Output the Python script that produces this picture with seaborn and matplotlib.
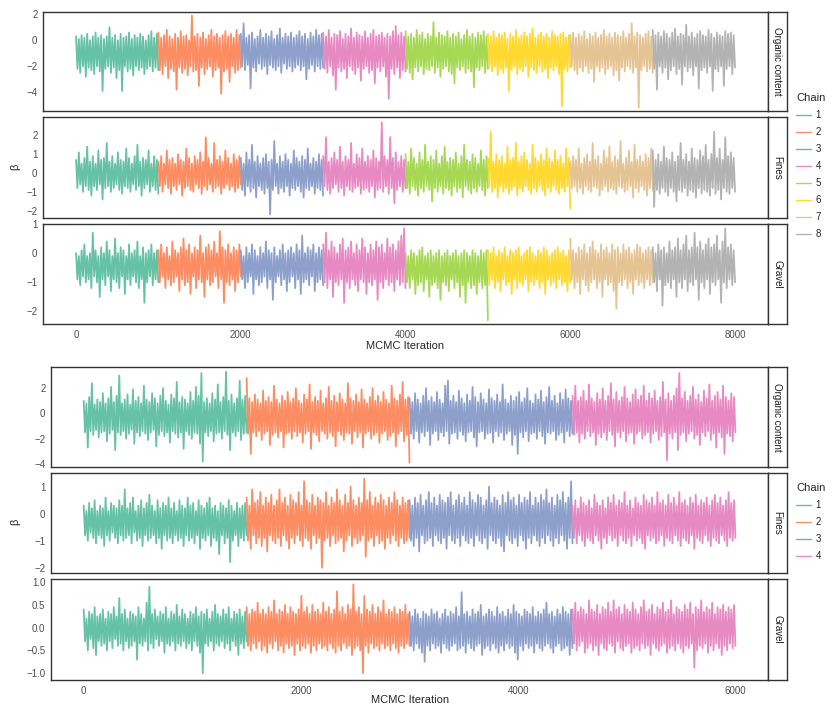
import matplotlib
matplotlib.use("Agg")
import matplotlib.pyplot as plt
import numpy as np
import pandas as pd
import seaborn as sns
from matplotlib.lines import Line2D

# ---- data: values, one list per chain ----
facets = ["Organic content", "Fines", "Gravel"]

# run A: 8 chains x 1000 iterations
top_organic = [
    [0.3, -2.2, 0.1, -2.5, 0.4, -2.0, 0.2, -2.8, 0.5, -2.1, 0.0, -2.3, 0.3, -2.6, 0.6, -2.0, 0.2, -2.4, 0.4, -3.9,
     0.1, -2.2, 0.3, -2.0, 1.0, -2.5, 0.2, -2.1, 0.4, -2.9, 0.0, -2.3, 0.5, -3.9, 0.2, -2.0, 0.3, -2.4, 0.6, -2.2,
     0.1, -2.7, 0.4, -2.0, 0.2, -2.3, 0.5, -2.1, 0.3, -2.6, 0.0, -2.2, 0.4, -2.0, 0.7, -2.4, 0.2, -2.1, 0.5, -2.3],
    [0.6, -2.3, 0.2, -2.6, 0.4, -2.0, 0.8, -2.9, 0.3, -2.2, 0.1, -2.4, 0.5, -3.8, 0.2, -2.1, 0.7, -2.5, 0.3, -2.2,
     0.4, -2.7, 0.0, -2.0, 1.9, -2.4, 0.3, -2.3, 0.5, -3.5, 0.2, -2.1, 0.6, -2.6, 0.1, -2.2, 0.4, -2.0, 0.8, -2.8,
     0.3, -2.3, 0.5, -2.1, 0.2, -4.1, 0.4, -2.4, 0.7, -2.2, 0.3, -3.2, 0.5, -2.0, 0.2, -2.5, 0.8, -2.3, 0.4, -2.1],
    [0.5, -2.0, 1.3, -2.3, 0.2, -1.9, 0.4, -3.7, 0.6, -2.1, 0.1, -2.4, 0.3, -1.8, 0.8, -2.2, 0.2, -2.0, 0.5, -2.6,
     0.3, -1.9, 0.7, -2.1, 0.1, -2.3, 0.4, -2.0, 0.9, -2.5, 0.2, -1.8, 0.5, -2.2, 0.3, -2.0, 0.6, -2.4, 0.2, -2.1,
     0.4, -1.9, 0.7, -2.3, 0.3, -2.0, 0.5, -3.0, 0.1, -2.2, 0.6, -1.9, 0.3, -2.4, 0.8, -2.0, 0.4, -2.2, 0.5, -2.1],
    [0.6, -2.2, 0.3, -2.5, 0.8, -2.0, 0.2, -2.7, 0.5, -3.8, 0.4, -2.1, 0.7, -2.4, 0.1, -2.2, 0.5, -2.9, 0.3, -2.0,
     0.9, -2.3, 0.2, -2.6, 0.6, -2.1, 0.4, -3.1, 0.3, -2.2, 0.7, -2.0, 0.2, -2.5, 0.5, -2.3, 0.8, -3.3, 0.3, -2.1,
     0.4, -2.4, 0.6, -2.0, 0.2, -2.8, 0.5, -4.5, 0.3, -2.2, 0.7, -2.6, 1.1, -2.1, 0.4, -2.9, 0.6, -2.3, 0.3, -2.4],
    [0.7, -2.2, 0.3, -2.5, 0.5, -3.0, 0.2, -2.1, 0.8, -2.4, 0.4, -2.0, 0.6, -2.6, 0.1, -2.2, 0.5, -2.3, 0.3, -2.0,
     1.4, -2.5, 0.2, -2.1, 0.6, -2.8, 0.4, -2.2, 0.3, -2.0, 0.7, -2.4, 0.2, -2.6, 0.5, -3.3, 0.3, -2.1, 0.6, -2.3,
     0.1, -2.0, 0.4, -2.5, 0.8, -2.2, 0.3, -2.4, 0.5, -3.6, 0.2, -2.1, 0.6, -2.3, 0.4, -2.0, 0.7, -2.5, 0.3, -2.2],
    [0.5, -2.1, 0.3, -2.4, 0.7, -2.0, 0.2, -2.7, 0.5, -2.2, 0.4, -2.5, 0.6, -2.1, 0.1, -3.9, 0.5, -2.3, 0.3, -2.0,
     0.8, -2.6, 0.2, -2.2, 0.4, -2.4, 0.6, -2.0, 0.3, -2.8, 0.5, -2.1, 0.9, -2.3, 0.2, -2.5, 0.4, -2.0, 0.6, -2.4,
     0.3, -2.2, 0.5, -2.9, 0.2, -2.1, 0.7, -2.3, 0.4, -2.0, 0.3, -2.6, 0.5, -5.1, 0.6, -2.2, 0.2, -2.4, 0.4, -2.1],
    [0.4, -2.0, 0.6, -2.3, 0.2, -2.6, 0.5, -2.1, 0.3, -2.4, 0.7, -2.0, 0.1, -2.5, 0.5, -2.2, 0.3, -3.2, 0.6, -2.0,
     0.2, -2.4, 0.4, -2.1, 0.8, -2.6, 0.3, -2.2, 0.5, -2.0, 0.2, -2.7, 0.6, -2.3, 0.4, -3.1, 0.3, -2.1, 0.7, -2.4,
     0.2, -2.0, 0.5, -2.2, 1.3, -2.5, 0.3, -2.1, 0.6, -5.2, 0.4, -2.3, 0.2, -2.0, 0.5, -2.4, 0.7, -2.2, 0.3, -2.5],
    [0.8, -2.2, 0.4, -3.8, 0.6, -2.0, 0.3, -2.5, 0.7, -2.1, 0.5, -3.0, 0.2, -2.3, 0.6, -2.0, 0.9, -2.6, 0.3, -2.2,
     0.5, -3.4, 0.4, -2.0, 1.2, -2.4, 0.3, -2.1, 0.6, -2.7, 0.2, -2.0, 0.5, -3.7, 0.7, -2.3, 0.4, -2.1, 0.3, -2.5,
     0.8, -2.0, 0.5, -3.9, 0.2, -2.2, 0.6, -2.4, 0.4, -2.0, 0.3, -3.5, 0.7, -2.2, 0.5, -2.0, 0.6, -2.6, 0.4, -2.1],
]
top_fines = [
    [0.7, -0.8, 1.1, -0.6, 0.5, -1.0, 0.8, -0.7, 1.4, -0.9, 0.6, -1.2, 0.9, -0.7, 0.5, -0.9, 1.2, -0.6, 0.7, -1.4,
     0.8, -0.8, 1.6, -0.7, 0.6, -1.0, 0.9, -0.8, 0.5, -0.6, 1.1, -0.9, 0.7, -1.1, 0.6, -0.7, 1.3, -0.8, 0.8, -1.0,
     0.5, -0.6, 0.9, -0.9, 1.5, -0.7, 0.6, -1.2, 0.8, -0.8, 0.7, -0.6, 1.2, -1.0, 0.5, -0.7, 0.9, -0.9, 0.7, -1.1],
    [0.6, -0.7, 0.9, -1.0, 0.5, -0.6, 1.2, -0.8, 0.7, -1.1, 0.8, -0.7, 0.5, -0.9, 1.0, -0.6, 0.7, -1.2, 0.6, -0.8,
     1.3, -0.7, 0.8, -0.9, 0.5, -1.0, 0.9, -0.6, 0.7, -0.8, 1.1, -1.1, 0.6, -0.7, 1.9, -0.9, 0.8, -0.6, 0.5, -1.0,
     1.6, -0.8, 0.7, -0.7, 0.9, -1.1, 0.6, -0.8, 1.2, -0.6, 0.8, -0.9, 0.5, -0.7, 1.0, -1.0, 0.7, -0.8, 0.9, -0.6],
    [0.8, -0.9, 0.5, -1.2, 1.1, -0.7, 0.7, -1.0, 1.5, -0.8, 0.6, -1.3, 0.9, -0.7, 0.5, -0.9, 0.8, -1.1, 1.0, -0.8,
     0.6, -2.2, 0.7, -0.9, 1.7, -0.7, 0.5, -1.1, 0.9, -0.8, 0.6, -1.0, 1.0, -0.7, 0.7, -1.2, 0.5, -0.8, 1.2, -0.9,
     0.8, -0.7, 0.6, -1.0, 0.9, -1.3, 0.7, -0.8, 1.3, -0.9, 0.5, -0.7, 0.8, -1.1, 0.6, -0.8, 1.0, -0.9, 0.7, -1.2],
    [0.9, -0.7, 1.9, -0.9, 0.6, -1.1, 0.8, -0.8, 1.1, -0.6, 0.7, -1.0, 1.4, -0.8, 0.6, -1.2, 0.9, -0.7, 0.7, -0.9,
     1.6, -1.0, 0.5, -0.8, 1.0, -0.7, 0.8, -1.1, 1.3, -0.9, 0.6, -0.8, 0.9, -1.0, 0.7, -0.7, 1.2, -1.3, 0.8, -0.9,
     0.6, -0.8, 2.7, -1.0, 0.9, -0.7, 0.7, -1.1, 1.9, -0.8, 0.8, -1.6, 1.1, -0.9, 0.6, -0.7, 0.9, -1.0, 0.7, -0.8],
    [1.0, -0.8, 0.6, -1.1, 1.3, -0.7, 0.8, -0.9, 0.5, -1.2, 1.1, -0.8, 0.7, -1.0, 1.5, -0.7, 0.6, -0.9, 0.9, -1.5,
     0.7, -0.8, 1.2, -1.0, 0.5, -0.7, 0.9, -1.1, 1.4, -0.8, 0.6, -0.9, 0.8, -1.2, 0.7, -0.7, 1.1, -1.0, 0.5, -0.8,
     0.9, -1.3, 1.5, -0.7, 0.7, -0.9, 0.6, -1.1, 1.0, -0.8, 0.8, -1.0, 0.5, -0.7, 1.2, -0.9, 0.7, -1.2, 0.9, -0.8],
    [0.8, -0.7, 2.2, -1.0, 0.6, -0.8, 1.0, -1.3, 0.7, -0.7, 0.9, -1.0, 0.5, -0.8, 1.4, -1.1, 0.7, -0.9, 0.8, -0.7,
     1.6, -1.2, 0.6, -0.8, 0.9, -1.0, 1.1, -0.7, 0.7, -0.9, 0.5, -1.1, 1.5, -0.8, 0.8, -1.0, 0.6, -0.7, 1.0, -0.9,
     0.7, -1.2, 1.3, -0.8, 0.8, -1.0, 0.6, -0.7, 1.2, -0.9, 0.7, -1.1, 0.9, -0.8, 0.5, -1.0, 1.3, -0.7, 0.8, -1.9],
    [0.6, -0.8, 0.9, -0.7, 0.7, -1.0, 1.3, -0.8, 0.5, -1.1, 0.8, -0.7, 1.0, -0.9, 0.6, -1.0, 1.6, -0.7, 0.7, -0.8,
     0.9, -1.2, 0.5, -0.9, 1.2, -0.7, 0.8, -1.0, 1.4, -0.8, 0.6, -0.9, 0.9, -1.1, 0.7, -0.7, 1.7, -0.8, 0.5, -1.0,
     0.8, -0.9, 1.2, -0.7, 0.6, -1.3, 1.5, -0.8, 0.7, -1.0, 0.9, -0.7, 0.6, -0.9, 1.0, -1.2, 0.8, -0.8, 1.3, -0.9],
    [1.2, -1.8, 0.7, -0.9, 1.0, -1.1, 0.6, -0.8, 1.4, -1.0, 0.8, -1.2, 0.7, -0.8, 1.1, -1.0, 0.6, -1.5, 0.9, -0.9,
     1.6, -1.0, 0.7, -0.8, 1.0, -1.2, 0.6, -0.9, 1.3, -1.0, 0.8, -1.3, 0.7, -0.8, 1.2, -1.1, 0.9, -0.9, 1.5, -1.0,
     0.7, -1.2, 1.0, -0.8, 2.2, -1.1, 0.8, -0.9, 1.3, -1.4, 0.7, -0.8, 1.9, -1.0, 0.9, -1.1, 1.1, -0.8, 0.8, -1.0],
]
top_gravel = [
    [0.0, -0.9, -0.1, -1.1, 0.1, -0.8, 0.3, -1.0, -0.1, -0.9, 0.0, -1.2, 0.7, -0.8, 0.1, -1.0, -0.1, -1.5, 0.2, -0.9,
     0.0, -1.1, 0.4, -0.8, 0.1, -1.3, -0.1, -0.9, 0.5, -1.0, 0.0, -1.2, 0.2, -0.8, 0.1, -1.4, -0.1, -0.9, 0.3, -1.1,
     0.0, -0.8, 0.1, -1.0, 0.4, -1.2, -0.1, -0.9, 0.2, -1.7, 0.0, -1.0, 0.1, -0.8, 0.3, -1.1, 0.0, -0.9, 0.1, -1.0],
    [0.1, -1.0, 0.3, -0.8, 0.0, -1.2, 0.2, -0.9, -0.1, -1.1, 0.4, -1.0, 0.1, -0.8, 0.0, -1.3, 0.2, -0.9, 0.5, -1.1,
     0.1, -1.0, 0.3, -1.4, 0.0, -0.8, 0.2, -1.2, 0.1, -0.9, 0.6, -1.0, 0.0, -1.5, 0.2, -0.9, 0.3, -1.1, 0.1, -1.0,
     0.4, -0.8, 0.0, -1.2, 0.75, -0.9, 0.2, -1.7, 0.1, -1.0, 0.3, -1.1, 0.0, -0.9, 0.2, -1.3, 0.1, -1.0, 0.3, -0.8],
    [0.1, -0.9, -0.1, -1.2, 0.2, -1.0, 0.0, -0.8, 0.3, -1.4, 0.1, -0.9, -0.1, -1.1, 0.2, -1.0, 0.0, -0.8, 0.4, -1.2,
     0.1, -0.9, 0.0, -1.6, 0.2, -1.0, -0.1, -0.8, 0.1, -1.1, 0.3, -0.9, 0.0, -1.3, 0.1, -1.0, 0.2, -0.8, 0.0, -1.2,
     0.3, -0.9, 0.1, -1.4, 0.6, -1.0, 0.0, -0.9, 0.2, -1.1, 0.1, -0.8, 0.3, -1.3, 0.0, -1.0, 0.2, -0.9, 0.1, -1.1],
    [0.3, -1.0, 0.7, -1.2, 0.1, -0.9, 0.4, -1.5, 0.2, -1.0, 0.0, -1.1, 0.3, -0.9, 0.5, -1.7, 0.1, -1.0, 0.2, -1.2,
     0.4, -0.9, 0.0, -1.1, 0.3, -1.3, 0.1, -0.9, 0.5, -1.0, 0.2, -1.4, 0.0, -1.0, 0.3, -1.1, 0.1, -0.9, 0.4, -1.6,
     0.2, -1.0, 0.3, -1.2, 0.0, -0.9, 0.5, -1.1, 0.2, -1.0, 0.3, -1.3, 0.1, -0.9, 0.4, -1.1, 0.6, -1.0, 0.85, -1.2],
    [0.0, -1.0, -0.1, -1.2, 0.1, -0.9, 0.0, -1.4, -0.1, -1.1, 0.1, -1.0, 0.2, -1.3, -0.1, -0.9, 0.0, -1.5, 0.1, -1.1,
     -0.1, -1.0, 0.0, -1.2, 0.1, -1.6, -0.1, -1.0, 0.0, -1.1, 0.1, -1.3, -0.1, -0.9, 0.0, -1.2, 0.1, -1.0, -0.1, -1.5,
     0.0, -1.1, 0.1, -1.7, 0.0, -1.0, -0.1, -1.2, 0.1, -1.1, 0.0, -1.4, -0.1, -1.0, 0.1, -1.2, 0.0, -1.1, 0.1, -2.3],
    [0.1, -1.1, 0.0, -0.9, 0.2, -1.2, -0.1, -1.0, 0.1, -1.3, 0.0, -0.9, 0.2, -1.1, -0.1, -1.0, 0.1, -1.4, 0.0, -0.9,
     0.1, -1.2, 0.2, -1.0, -0.1, -1.1, 0.0, -0.9, 0.1, -1.3, 0.2, -1.0, 0.0, -1.1, -0.1, -0.9, 0.1, -1.2, 0.0, -1.0,
     0.2, -1.4, 0.1, -0.9, -0.1, -1.1, 0.0, -1.0, 0.1, -1.2, 0.2, -0.9, 0.0, -1.1, 0.1, -1.0, -0.1, -1.3, 0.1, -1.0],
    [0.5, -0.9, 0.1, -1.2, 0.0, -1.0, 0.2, -1.4, 0.1, -0.9, 0.3, -1.1, 0.0, -1.3, 0.2, -1.0, 0.4, -0.9, 0.1, -1.2,
     0.0, -1.0, 0.3, -1.5, 0.1, -0.9, 0.2, -1.1, 0.0, -1.0, 0.3, -1.3, 0.1, -1.9, 0.2, -1.0, 0.0, -1.1, 0.3, -0.9,
     0.1, -1.2, 0.2, -1.0, 0.0, -1.4, 0.1, -0.9, 0.3, -1.1, 0.2, -1.0, 0.0, -1.2, 0.1, -0.9, 0.2, -1.1, 0.1, -1.0],
    [0.2, -1.0, 0.0, -1.3, 0.3, -0.9, 0.1, -1.8, 0.2, -1.1, 0.0, -1.0, 0.4, -1.2, 0.1, -0.9, 0.2, -1.5, 0.5, -1.0,
     0.1, -1.2, 0.3, -0.9, 0.6, -1.3, 0.1, -1.0, 0.2, -1.1, 0.7, -0.9, 0.2, -1.6, 0.4, -1.0, 0.1, -1.2, 0.3, -0.9,
     0.5, -1.4, 0.2, -1.0, 0.3, -1.1, 0.6, -0.9, 0.1, -1.7, 0.4, -1.0, 0.85, -1.2, 0.2, -0.9, 0.3, -1.1, 0.1, -1.0],
]

# run B: 4 chains x 1500 iterations
bot_organic = [
    [1.0, -1.5, 0.8, -2.7, 1.3, -1.4, 2.4, -1.7, 0.7, -1.3, 1.1, -1.9, 0.9, -1.5, 1.6, -1.4, 0.8, -2.2, 1.2, -1.6,
     2.1, -1.3, 0.9, -2.9, 1.4, -1.5, 3.0, -1.7, 0.8, -1.4, 1.1, -2.0, 1.5, -1.6, 0.7, -1.3, 1.9, -2.4, 1.0, -1.5,
     1.3, -1.8, 0.8, -1.4, 2.2, -1.6, 1.1, -2.1, 0.9, -1.5, 1.6, -1.3, 1.2, -2.6, 0.8, -1.7, 1.4, -1.4, 2.0, -1.8,
     1.0, -1.5, 0.7, -2.3, 1.5, -1.4, 1.2, -1.6, 2.5, -1.9, 0.9, -1.5, 1.3, -2.8, 1.1, -1.4, 0.8, -1.7, 1.7, -2.0,
     1.0, -1.5, 2.1, -1.6, 1.4, -2.4, 3.2, -3.8, 0.9, -1.5, 1.2, -1.8, 0.8, -1.4, 1.6, -2.2, 1.1, -1.6, 2.3, -1.5,
     0.9, -2.0, 1.3, -1.4, 3.3, -1.7, 1.0, -2.9, 1.5, -1.5, 0.8, -1.8, 1.2, -1.4, 2.6, -2.1, 1.1, -1.6, 1.4, -1.5],
    [2.8, -1.6, 1.2, -3.2, 0.9, -1.5, 1.5, -1.8, 1.1, -1.4, 0.8, -2.1, 1.8, -1.6, 1.0, -1.4, 1.3, -2.5, 0.9, -1.7,
     2.2, -1.5, 1.1, -1.9, 0.8, -1.4, 1.4, -2.7, 1.0, -1.6, 1.7, -1.5, 0.9, -2.0, 1.2, -1.4, 2.0, -1.8, 1.0, -1.5,
     0.8, -2.3, 1.5, -1.6, 1.1, -1.4, 2.3, -2.8, 0.9, -1.5, 1.3, -1.7, 1.0, -2.2, 1.8, -1.4, 0.8, -1.6, 1.2, -2.0,
     2.1, -1.5, 1.0, -1.8, 1.4, -2.6, 0.9, -1.4, 1.6, -1.7, 1.1, -2.1, 0.8, -1.5, 2.4, -1.6, 1.2, -2.4, 1.0, -1.4,
     1.5, -1.9, 0.9, -1.5, 1.9, -2.7, 1.1, -1.6, 0.8, -1.4, 1.3, -2.0, 2.0, -1.7, 1.0, -1.5, 1.4, -2.3, 0.9, -1.6,
     1.7, -1.4, 1.1, -2.1, 0.8, -1.8, 2.2, -1.5, 1.2, -2.6, 1.0, -1.6, 1.5, -1.4, 2.5, -2.2, 1.1, -1.7, 1.3, -3.9],
    [1.2, -1.6, 0.9, -2.0, 1.6, -1.4, 1.1, -2.3, 0.8, -1.5, 1.4, -1.8, 2.0, -1.4, 1.0, -2.5, 1.3, -1.6, 0.9, -1.4,
     1.7, -2.1, 1.1, -1.5, 0.8, -1.8, 2.2, -1.4, 2.6, -2.4, 1.0, -1.6, 1.4, -1.5, 0.9, -2.0, 1.8, -1.4, 1.2, -1.7,
     0.8, -2.2, 1.5, -1.5, 1.0, -1.4, 2.1, -1.9, 1.3, -2.6, 0.9, -1.5, 1.6, -1.4, 1.1, -2.0, 0.8, -1.6, 1.9, -1.5,
     1.2, -2.3, 1.0, -1.4, 1.5, -1.8, 0.9, -1.5, 2.3, -2.1, 1.1, -1.6, 0.8, -1.4, 1.4, -2.5, 1.0, -1.7, 1.3, -3.2,
     1.7, -1.5, 0.9, -1.9, 1.2, -1.4, 2.0, -2.2, 1.0, -1.6, 0.8, -1.5, 1.5, -2.0, 1.1, -1.4, 1.8, -1.8, 0.9, -2.4,
     1.3, -1.5, 2.1, -1.6, 1.0, -1.4, 1.4, -2.1, 0.8, -1.7, 1.6, -1.5, 1.1, -2.3, 1.9, -1.4, 1.2, -1.8, 1.0, -1.6],
    [1.4, -1.7, 2.2, -1.5, 1.0, -2.3, 1.3, -1.6, 1.8, -2.0, 1.0, -1.4, 2.3, -1.8, 1.2, -1.5, 0.9, -2.5, 1.6, -1.6,
     1.1, -1.9, 2.0, -1.5, 1.0, -2.1, 1.4, -1.4, 2.4, -1.7, 1.1, -2.6, 1.7, -1.5, 1.0, -1.9, 1.3, -1.4, 2.1, -2.2,
     1.2, -1.6, 0.9, -1.5, 1.5, -2.4, 1.9, -1.6, 1.1, -1.4, 1.4, -2.0, 2.2, -1.7, 1.0, -1.5, 1.6, -2.3, 1.2, -1.6,
     1.8, -1.4, 1.0, -2.1, 1.3, -1.8, 2.5, -1.5, 1.1, -3.7, 1.6, -1.6, 1.0, -2.0, 1.4, -1.5, 2.0, -2.9, 3.2, -1.7,
     1.2, -1.5, 1.7, -2.2, 1.0, -1.6, 1.4, -1.4, 2.1, -2.0, 1.1, -1.7, 1.5, -2.5, 0.9, -1.5, 1.8, -1.8, 1.2, -1.4,
     2.3, -2.1, 1.0, -1.6, 1.4, -2.7, 1.7, -1.5, 1.1, -1.9, 2.2, -3.2, 1.3, -1.6, 1.0, -1.8, 1.6, -2.2, 1.3, -1.5],
]
bot_fines = [
    [0.3, -0.8, 0.1, -1.0, 0.4, -0.7, 0.2, -0.9, 0.5, -1.1, 0.1, -0.8, 0.3, -0.9, 0.2, -1.2, 0.6, -0.8, 0.1, -1.0,
     0.4, -0.7, 0.3, -0.9, 0.2, -1.1, 0.5, -0.8, 0.3, -1.0, 0.9, -0.9, 0.2, -0.8, 0.4, -1.1, 0.6, -0.7, 0.1, -1.0,
     0.3, -0.9, 0.5, -1.2, 0.2, -0.8, 0.4, -1.0, 0.7, -0.9, 0.3, -0.8, 0.1, -1.1, 0.5, -0.9, 0.2, -1.3, 0.4, -0.8,
     0.3, -1.0, 0.6, -0.9, 0.2, -1.1, 0.4, -0.8, 0.1, -1.0, 0.5, -0.9, 0.3, -1.2, 0.2, -0.8, 0.6, -1.0, 0.3, -0.9,
     0.4, -1.1, 0.1, -0.8, 0.5, -1.3, 0.3, -0.9, 0.2, -1.0, 0.4, -0.8, 0.6, -1.2, 0.2, -0.9, 0.3, -1.0, 0.1, -1.5,
     0.4, -0.8, 0.3, -1.1, 0.2, -0.9, 0.5, -1.8, 0.3, -1.0, 0.1, -0.8, 0.4, -1.2, 0.2, -0.9, 0.3, -1.0, 0.4, -0.8],
    [0.6, -1.0, 0.3, -1.3, 0.9, -0.8, 0.4, -1.1, 0.5, -0.9, 0.8, -1.2, 0.3, -0.9, 0.6, -1.4, 0.4, -0.8, 0.7, -1.0,
     0.3, -1.1, 0.5, -0.9, 0.9, -1.2, 0.4, -0.8, 0.6, -1.0, 0.3, -1.3, 0.7, -0.9, 0.5, -1.1, 0.4, -0.8, 0.8, -1.0,
     0.3, -1.2, 1.2, -0.9, 0.5, -1.0, 0.4, -1.3, 0.7, -0.8, 0.3, -1.1, 0.6, -0.9, 0.5, -2.0, 0.4, -1.0, 0.8, -0.9,
     0.3, -1.2, 0.6, -0.8, 0.4, -1.1, 0.9, -1.0, 0.5, -0.9, 0.3, -1.4, 0.7, -1.0, 0.4, -0.8, 1.0, -1.2, 0.5, -0.9,
     0.3, -1.1, 0.6, -1.0, 0.4, -0.8, 1.3, -1.6, 0.5, -1.0, 0.8, -0.9, 0.3, -1.2, 0.6, -0.8, 0.4, -1.1, 0.7, -1.0,
     0.5, -1.3, 0.3, -0.9, 0.6, -1.1, 0.4, -0.8, 0.8, -1.0, 0.5, -1.2, 0.3, -0.9, 0.6, -1.1, 0.4, -1.0, 0.5, -0.9],
    [0.5, -1.0, 0.3, -1.2, 0.6, -0.9, 0.4, -1.4, 0.7, -0.8, 0.3, -1.1, 0.5, -1.0, 0.8, -0.9, 0.4, -1.2, 0.6, -0.8,
     0.3, -1.0, 0.7, -1.1, 0.5, -0.9, 0.4, -1.3, 0.6, -0.8, 0.8, -1.0, 0.3, -1.1, 0.5, -0.9, 0.7, -1.2, 0.4, -0.8,
     0.6, -1.0, 0.3, -1.1, 0.8, -0.9, 0.5, -1.2, 0.4, -0.8, 0.7, -1.0, 0.6, -1.1, 0.3, -0.9, 0.5, -1.3, 1.0, -0.8,
     0.4, -1.0, 0.6, -1.1, 0.5, -0.9, 0.3, -1.2, 0.7, -1.4, 0.4, -0.8, 0.8, -1.0, 0.5, -1.1, 0.6, -0.9, 0.3, -1.2,
     0.7, -0.8, 0.4, -1.0, 0.6, -1.3, 0.5, -0.9, 0.8, -1.1, 0.3, -0.8, 0.6, -1.0, 0.4, -1.2, 0.7, -0.9, 0.5, -1.1,
     0.9, -0.8, 0.4, -1.0, 0.6, -1.2, 0.3, -0.9, 0.7, -1.1, 0.5, -0.8, 0.8, -1.0, 0.4, -1.3, 0.6, -0.9, 1.2, -1.1],
    [0.3, -0.9, 0.5, -1.1, 0.2, -0.8, 0.6, -1.0, 0.4, -1.2, 0.3, -0.9, 0.5, -1.0, 0.2, -1.1, 0.7, -0.8, 0.4, -1.0,
     0.3, -1.3, 0.5, -0.9, 0.2, -1.1, 0.6, -0.8, 0.4, -1.0, 0.7, -0.9, 0.3, -1.2, 0.5, -0.8, 0.4, -1.0, 0.8, -1.1,
     0.3, -0.9, 0.5, -1.2, 0.2, -0.8, 0.6, -1.0, 0.4, -0.9, 0.3, -1.1, 0.7, -1.3, 0.5, -0.8, 0.4, -1.0, 0.6, -0.9,
     0.3, -1.1, 0.8, -1.0, 0.4, -0.8, 0.5, -1.2, 0.3, -0.9, 0.7, -1.0, 0.4, -1.1, 0.6, -0.8, 0.3, -1.0, 0.8, -1.2,
     0.4, -0.9, 0.5, -1.0, 0.3, -1.1, 0.6, -0.8, 0.4, -1.3, 0.7, -0.9, 0.3, -1.0, 0.5, -1.1, 0.4, -0.8, 0.6, -1.0,
     0.3, -1.2, 0.5, -0.9, 0.7, -1.0, 0.4, -1.1, 0.6, -0.8, 0.3, -1.0, 0.5, -1.2, 0.8, -0.9, 0.4, -1.0, 0.5, -0.9],
]
bot_gravel = [
    [0.4, -0.3, 0.2, -0.5, 0.35, -0.25, 0.3, -0.45, 0.45, -0.6, 0.25, -0.3, 0.3, -0.4, 0.4, -0.35, 0.2, -0.5, 0.35, -0.3,
     0.3, -0.45, 0.45, -0.25, 0.25, -0.4, 0.65, -0.35, 0.3, -0.5, 0.4, -0.3, 0.2, -0.45, 0.35, -0.4, 0.3, -0.3, 0.25, -0.7,
     0.45, -0.35, 0.3, -0.4, 0.2, -0.3, 0.55, -0.5, 0.9, -0.35, 0.3, -0.45, 0.4, -0.25, 0.25, -0.4, 0.35, -0.3, 0.3, -0.55,
     0.45, -0.35, 0.2, -0.4, 0.35, -0.3, 0.3, -0.5, 0.5, -0.35, 0.25, -0.4, 0.4, -0.3, 0.3, -0.45, 0.2, -0.35, 0.35, -0.5,
     0.3, -0.3, 0.45, -0.4, 0.25, -0.55, 0.35, -1.0, 0.3, -0.35, 0.4, -0.4, 0.2, -0.3, 0.35, -0.5, 0.5, -0.35, 0.3, -0.4,
     0.25, -0.3, 0.4, -0.45, 0.3, -0.35, 0.45, -0.5, 0.2, -0.3, 0.35, -0.4, 0.3, -0.6, 0.4, -0.35, 0.25, -0.45, 0.35, -0.3],
    [0.45, -0.4, 0.3, -0.5, 0.4, -0.35, 0.35, -0.45, 0.55, -0.3, 0.3, -0.5, 0.4, -0.4, 0.3, -0.55, 0.45, -0.35, 0.35, -0.45,
     0.6, -0.3, 0.3, -0.5, 0.4, -0.4, 0.35, -0.55, 0.5, -0.35, 0.3, -0.45, 0.45, -0.4, 0.35, -0.6, 0.3, -0.35, 0.4, -0.5,
     0.7, -0.4, 0.35, -0.45, 0.45, -0.35, 0.3, -0.55, 0.5, -0.4, 0.35, -0.5, 0.4, -0.35, 0.3, -0.45, 0.55, -0.4, 0.35, -0.5,
     0.45, -0.35, 0.3, -0.45, 0.4, -0.55, 0.8, -0.4, 0.35, -0.5, 0.45, -0.35, 0.3, -0.45, 0.5, -0.4, 0.4, -0.6, 0.95, -0.45,
     0.35, -0.4, 0.45, -0.5, 0.3, -1.0, 0.7, -0.4, 0.4, -0.55, 0.35, -0.35, 0.5, -0.45, 0.3, -0.4, 0.45, -0.5, 0.35, -0.35,
     0.6, -0.45, 0.3, -0.4, 0.4, -0.5, 0.35, -0.35, 0.45, -0.45, 0.3, -0.55, 0.4, -0.4, 0.35, -0.45, 0.5, -0.35, 0.3, -0.4],
    [0.35, -0.4, 0.25, -0.5, 0.4, -0.35, 0.3, -0.45, 0.2, -0.55, 0.35, -0.75, 0.3, -0.4, 0.25, -0.5, 0.4, -0.35, 0.3, -0.45,
     0.35, -0.4, 0.2, -0.55, 0.3, -0.35, 0.4, -0.45, 0.25, -0.5, 0.35, -0.4, 0.3, -0.35, 0.45, -0.5, 0.25, -0.45, 0.78, -0.4,
     0.3, -0.55, 0.35, -0.35, 0.25, -0.45, 0.4, -0.5, 0.3, -0.4, 0.35, -0.35, 0.5, -0.6, 0.25, -0.45, 0.3, -0.4, 0.4, -0.5,
     0.35, -0.35, 0.25, -0.45, 0.45, -0.55, 0.3, -0.4, 0.35, -0.5, 0.25, -0.35, 0.4, -0.45, 0.3, -0.4, 0.5, -0.55, 0.35, -0.7,
     0.3, -0.4, 0.25, -0.5, 0.4, -0.35, 0.35, -0.45, 0.3, -0.4, 0.45, -0.55, 0.25, -0.35, 0.35, -0.45, 0.3, -0.5, 0.4, -0.4,
     0.55, -0.35, 0.3, -0.45, 0.35, -0.55, 0.25, -0.4, 0.4, -0.35, 0.3, -0.5, 0.45, -0.45, 0.35, -0.4, 0.3, -0.6, 0.4, -0.45],
    [0.4, -0.35, 0.55, -0.5, 0.35, -0.4, 0.45, -0.3, 0.4, -0.55, 0.3, -0.45, 0.6, -0.35, 0.4, -0.5, 0.35, -0.4, 0.5, -0.6,
     0.3, -0.35, 0.45, -0.45, 0.4, -0.5, 0.55, -0.35, 0.35, -0.4, 0.6, -0.55, 0.4, -0.3, 0.45, -0.45, 0.3, -0.5, 0.5, -0.4,
     0.4, -0.35, 0.35, -0.55, 0.55, -0.45, 0.4, -0.4, 0.3, -0.5, 0.45, -0.35, 0.6, -0.45, 0.35, -0.4, 0.4, -0.6, 0.5, -0.35,
     0.3, -0.45, 0.45, -0.5, 0.4, -0.4, 0.55, -0.35, 0.35, -0.55, 0.4, -0.45, 0.6, -0.4, 0.3, -0.5, 0.45, -0.35, 0.4, -0.45,
     0.35, -0.55, 0.5, -0.4, 0.4, -0.45, 0.55, -0.35, 0.3, -0.88, 0.45, -0.5, 0.4, -0.4, 0.6, -0.45, 0.35, -0.35, 0.45, -0.55,
     0.4, -0.4, 0.55, -0.5, 0.3, -0.35, 0.45, -0.45, 0.4, -0.6, 0.5, -0.4, 0.35, -0.5, 0.45, -0.35, 0.4, -0.45, 0.5, -0.4],
]

top_iters_per_chain = 1000
bot_iters_per_chain = 1500

top_xticks = [0, 2000, 4000, 6000, 8000]
bot_xticks = [0, 2000, 4000, 6000]
top_yticks = [[-4, -2, 0, 2], [-2, -1, 0, 1, 2], [-2, -1, 0, 1]]
bot_yticks = [[-4, -2, 0, 2], [-2, -1, 0, 1], [-1.0, -0.5, 0.0, 0.5, 1.0]]
top_ylims = [(-5.44, 2.18), (-2.39, 2.98), (-2.43, 1.0)]
bot_ylims = [(-4.24, 3.68), (-2.2, 1.51), (-1.15, 1.07)]


def to_frame(chains, n_iter):
    rows = []
    for k, vals in enumerate(chains):
        it = np.linspace(k * n_iter + 1, (k + 1) * n_iter, len(vals))
        rows.append(pd.DataFrame({"iteration": it, "beta": vals, "chain": str(k + 1)}))
    return pd.concat(rows, ignore_index=True)


sns.set_style("white")
plt.rcParams["font.family"] = ["Liberation Sans", "DejaVu Sans"]
plt.rcParams["axes.unicode_minus"] = True

W, H = 832, 709
fig = plt.figure(figsize=(W / 100, H / 100), dpi=100)
palette = sns.color_palette("Set2", 8)
edge = "#333333"


def px_rect(left, top, right, bottom):
    return [left / W, 1 - bottom / H, (right - left) / W, (bottom - top) / H]


def draw_block(data, n_iter, n_chains, left, panels, xticks, yticks, ylims, xmax, lw):
    for i, (name, chains) in enumerate(zip(facets, data)):
        top, bottom = panels[i]
        ax = fig.add_axes(px_rect(left, top, 768, bottom))
        df = to_frame(chains, n_iter)
        sns.lineplot(data=df, x="iteration", y="beta", hue="chain",
                     palette=palette[:n_chains], estimator=None, sort=False,
                     lw=lw, legend=False, ax=ax)
        ax.set_xlim(-0.05 * xmax, 1.05 * xmax)
        ax.set_ylim(*ylims[i])
        ax.set_yticks(yticks[i])
        if isinstance(yticks[i][0], float):
            ax.set_yticklabels([f"{v:.1f}".replace("-", "\u2212") for v in yticks[i]])
        ax.set_xticks(xticks)
        if i < 2:
            ax.tick_params(axis="x", length=0, labelbottom=False)
        ax.set_xlabel("")
        ax.set_ylabel("")
        ax.tick_params(axis="both", direction="out", length=2.5, width=0.8, color=edge,
                       labelsize=7, labelcolor="#4d4d4d", pad=1.5)
        for s in ax.spines.values():
            s.set_color(edge)
            s.set_linewidth(1.0)
        # facet strip on the right
        sx = fig.add_axes(px_rect(768, top, 787, bottom))
        sx.set_xticks([])
        sx.set_yticks([])
        for s in sx.spines.values():
            s.set_color(edge)
            s.set_linewidth(1.0)
        sx.text(0.5, 0.5, name, rotation=-90, ha="center", va="center",
                fontsize=7, color="#1a1a1a", transform=sx.transAxes)


draw_block([top_organic, top_fines, top_gravel], top_iters_per_chain, 8, 43,
           [(12, 111), (117, 218), (224, 324)], top_xticks, top_yticks, top_ylims, 8000, 1.3)
draw_block([bot_organic, bot_fines, bot_gravel], bot_iters_per_chain, 4, 51,
           [(367, 467), (473, 573), (579, 680)], bot_xticks, bot_yticks, bot_ylims, 6000, 1.3)

# axis titles
fig.text(405 / W, 1 - 346 / H, "MCMC Iteration", ha="center", va="center", fontsize=8)
fig.text(410 / W, 1 - 700 / H, "MCMC Iteration", ha="center", va="center", fontsize=8)
fig.text(15 / W, 1 - 167 / H, "β", ha="center", va="center", rotation=90, fontsize=8)
fig.text(15 / W, 1 - 522 / H, "β", ha="center", va="center", rotation=90, fontsize=8)


def add_legend(n, top_px):
    handles = [Line2D([0], [0], color=palette[k], lw=1.0) for k in range(n)]
    labels = [str(k + 1) for k in range(n)]
    fig.legend(handles, labels, title="Chain", loc="upper left",
               bbox_to_anchor=(796 / W, 1 - top_px / H), frameon=False,
               fontsize=7, title_fontsize=8, handlelength=1.5, handletextpad=0.5,
               labelspacing=0.72, borderaxespad=0, borderpad=0, alignment="left")


add_legend(8, 93)
add_legend(4, 483)

fig.savefig("out.png", dpi=100)
